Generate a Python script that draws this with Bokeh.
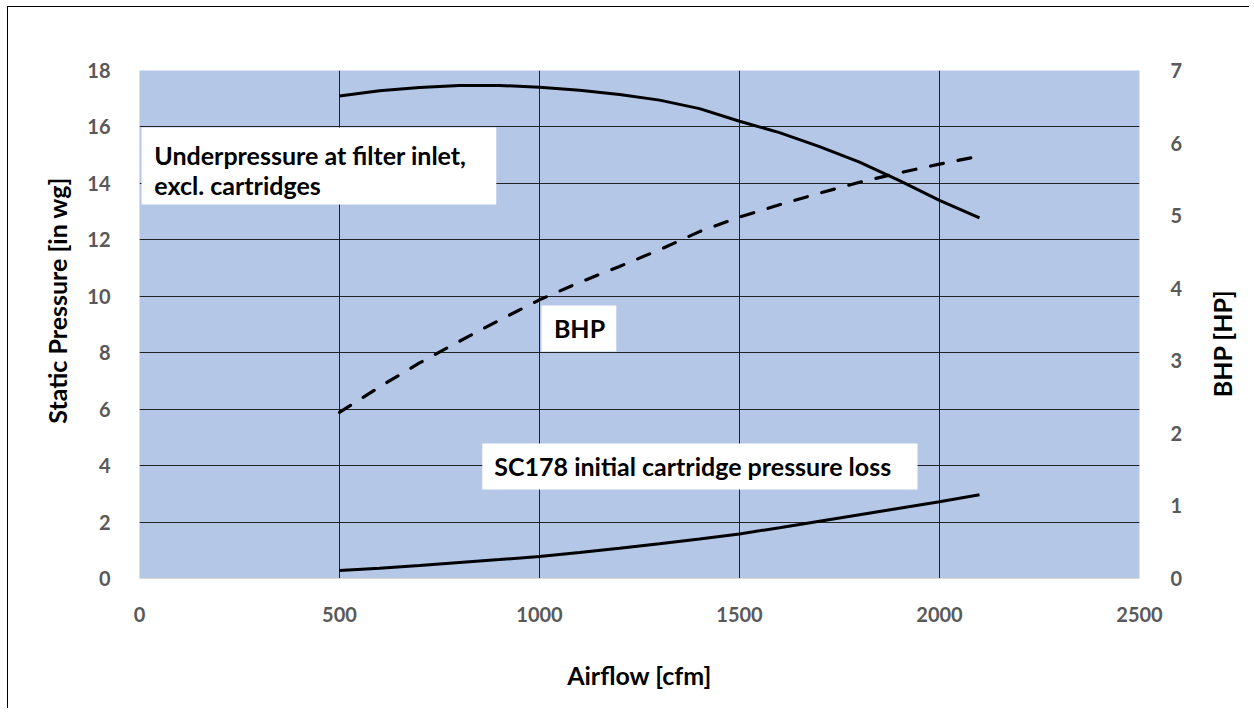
import math
from bokeh.plotting import figure
from bokeh.layouts import row
from bokeh.models import Range1d, LinearAxis, FixedTicker
from bokeh.embed import file_html
from bokeh.resources import INLINE
from bokeh.core.properties import value

# ---- data ----
airflow = [500, 600, 700, 800, 900, 1000, 1100, 1200, 1300, 1400, 1500,
           1600, 1700, 1800, 1900, 2000, 2100]
underpressure = [17.10, 17.28, 17.40, 17.47, 17.47, 17.41, 17.30, 17.15, 16.95,
                 16.65, 16.20, 15.80, 15.30, 14.75, 14.10, 13.40, 12.78]
bhp = [2.29, 2.64, 2.97, 3.27, 3.56, 3.84, 4.08, 4.30, 4.53, 4.78, 4.98,
       5.15, 5.31, 5.46, 5.59, 5.71, 5.82]
sc178_loss = [0.28, 0.36, 0.46, 0.57, 0.67, 0.78, 0.92, 1.07, 1.23, 1.40, 1.58,
              1.80, 2.03, 2.26, 2.49, 2.72, 2.97]

x_ticks = [0, 500, 1000, 1500, 2000, 2500]
y_ticks = [0, 2, 4, 6, 8, 10, 12, 14, 16, 18]
bhp_ticks = [0, 1, 2, 3, 4, 5, 6, 7]

x_title = "Airflow [cfm]"
y_title = "Static Pressure [in wg]"
y2_title = "BHP [HP]"

FONT = "Lato"
LABEL_GRAY = "#595959"
GRID = "#222222"
FRAME_H = 508
TOP, BOTTOM = 63, 130

p = figure(frame_width=1000, frame_height=FRAME_H,
           min_border_left=61, min_border_right=60,
           min_border_top=TOP, min_border_bottom=BOTTOM,
           x_range=Range1d(0, 2500), y_range=Range1d(0, 18),
           output_backend="svg", toolbar_location=None,
           background_fill_color="#b4c7e7", border_fill_color="white")
p.outline_line_color = None
p.extra_y_ranges = {"bhp": Range1d(0, 7)}

# grids (no line at 0)
p.xgrid.ticker = FixedTicker(ticks=[t for t in x_ticks if t > 0])
p.ygrid.ticker = FixedTicker(ticks=[t for t in y_ticks if t > 0])
for g in (p.xgrid, p.ygrid):
    g.grid_line_color = GRID
    g.grid_line_width = 1

# axes
p.xaxis.ticker = FixedTicker(ticks=x_ticks)
p.yaxis.ticker = FixedTicker(ticks=y_ticks)
right = LinearAxis(y_range_name="bhp", ticker=FixedTicker(ticks=bhp_ticks))
p.add_layout(right, "right")
p.xaxis.axis_label = x_title

for ax in (p.xaxis[0], p.yaxis[0], right):
    ax.major_tick_line_color = None
    ax.minor_tick_line_color = None
    ax.axis_line_color = None
    ax.major_label_text_font = FONT
    ax.major_label_text_font_style = "bold"
    ax.major_label_text_font_size = "20px"
    ax.major_label_text_color = LABEL_GRAY
    ax.axis_label_text_font = FONT
    ax.axis_label_text_font_style = "bold"
    ax.axis_label_text_font_size = "25px"
    ax.axis_label_text_color = "#000000"
p.xaxis.axis_line_color = "#d9d9d9"
p.xaxis.major_label_standoff = 22
p.xaxis.axis_label_standoff = 35
p.yaxis.major_label_standoff = 23
right.major_label_standoff = 25

# curves
p.line(airflow, underpressure, line_color="black", line_width=3)
p.line(airflow, sc178_loss, line_color="black", line_width=3)
p.line(airflow, bhp, y_range_name="bhp", line_color="black", line_width=3.2,
       line_dash="13 15", line_cap="round")

# annotation boxes
box_left = [5, 1005, 857]
box_right = [892, 1192, 1945]
box_top = [15.98, 9.67, 4.78]
box_bottom = [13.25, 8.04, 3.15]
p.quad(left=box_left, right=box_right, top=box_top, bottom=box_bottom,
       fill_color="white", line_color=None)

ann_text = ["Underpressure at filter inlet,", "excl. cartridges",
            "BHP", "SC178 initial cartridge pressure loss"]
ann_x = [37, 37, 1100, 887]
ann_y = [15.0, 13.93, 8.86, 3.97]
ann_align = ["left", "left", "center", "left"]
p.text(x=ann_x, y=ann_y, text=ann_text, text_align=ann_align,
       text_baseline="middle", text_font=value(FONT), text_font_style="bold",
       text_font_size="25px", text_color="black")


def title_strip(width, text, x_pos, y_pos):
    f = figure(frame_width=width, frame_height=FRAME_H,
               min_border_left=0, min_border_right=0,
               min_border_top=TOP, min_border_bottom=BOTTOM,
               x_range=Range1d(0, 1), y_range=p.y_range,
               output_backend="svg", toolbar_location=None,
               background_fill_color="white", border_fill_color="white")
    f.axis.visible = False
    f.grid.visible = False
    f.outline_line_color = None
    f.text(x=[x_pos], y=[y_pos], text=[text], angle=math.pi / 2,
           text_align="center", text_baseline="middle",
           text_font=value(FONT), text_font_style="bold",
           text_font_size="25px", text_color="black")
    return f


left_strip = title_strip(70, y_title, 0.686, 9.85)
right_strip = title_strip(50, y2_title, 0.44, 8.33)

layout = row(left_strip, p, right_strip, spacing=0)
layout.styles = {"margin-left": "7px", "margin-top": "6px",
                 "border-left": "1px solid #000000", "border-top": "1px solid #000000"}

open("out.html", "w").write(file_html(layout, INLINE))
